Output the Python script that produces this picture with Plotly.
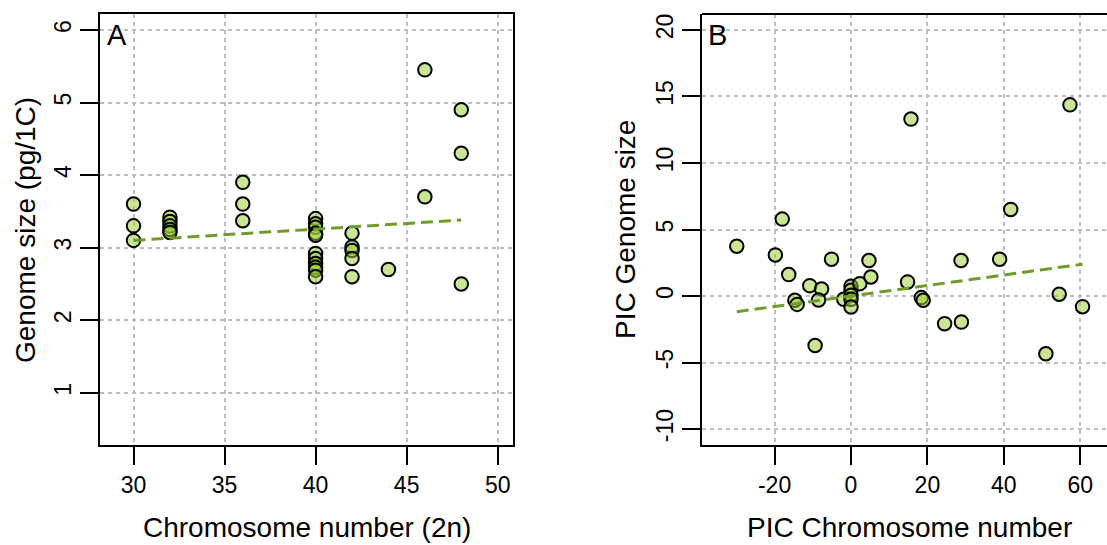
import numpy as np
import plotly.graph_objects as go

# ---------------- Data ----------------
# Panel A: chromosome number (2n) vs genome size (pg/1C)
chrom_2n = [30, 30, 30,
            32, 32, 32, 32, 32,
            36, 36, 36,
            40, 40, 40, 40, 40, 40, 40, 40, 40, 40, 40,
            42, 42, 42, 42, 42,
            44,
            46, 46,
            48, 48, 48]
genome_size = [3.60, 3.30, 3.10,
               3.42, 3.36, 3.30, 3.25, 3.21,
               3.90, 3.60, 3.37,
               3.40, 3.33, 3.28, 3.20, 3.17, 2.92, 2.85, 2.78, 2.73, 2.69, 2.60,
               3.20, 3.01, 2.96, 2.85, 2.60,
               2.70,
               5.45, 3.70,
               4.90, 4.30, 2.50]
fitA_coef = [2.633, 0.01556]   # intercept, slope

# Panel B: phylogenetic independent contrasts
pic_chrom = [-29.9, -18.0, -19.8, -16.3, -14.7, -14.1, -10.8, -7.7, -8.5, -9.4,
             -5.1, -1.9, 0.0, 0.0, 0.0, 0.0, 0.0, 2.3, 4.7, 5.2,
             15.7, 14.8, 18.4, 18.9, 24.5, 28.9, 28.8, 38.9, 41.8, 57.3,
             54.5, 60.6, 51.0]
pic_genome = [3.74, 5.78, 3.09, 1.61, -0.32, -0.63, 0.78, 0.53, -0.30, -3.72,
              2.77, -0.25, 0.73, 0.43, 0.05, -0.25, -0.83, 0.93, 2.67, 1.43,
              13.30, 1.06, -0.12, -0.32, -2.08, -1.96, 2.67, 2.77, 6.51, 14.37,
              0.13, -0.80, -4.34]
fitB_coef = [0.0, 0.0395]      # regression through origin

xA_ticks = [30, 35, 40, 45, 50]
yA_ticks = [1, 2, 3, 4, 5, 6]
xB_ticks = [-20, 0, 20, 40, 60]
yB_ticks = [-10, -5, 0, 5, 10, 15, 20]

# ---------------- Style ----------------
W, H = 1107, 545
FONT = "Liberation Sans, Arial, Helvetica, sans-serif"
fill = "rgba(154,205,50,0.52)"
line_col = "#6F9C2B"
grid_col = "#BEBEBE"

def px_x(p):
    return p / W

def px_y(p):
    return 1 - p / H

top_px, bot_px = 14, 445
A_left, A_right = 100, 513
B_left = 702

fig = go.Figure()

# Panel A
fig.add_trace(go.Scatter(
    x=chrom_2n, y=genome_size, mode="markers",
    marker=dict(size=13.5, color=fill, line=dict(color="black", width=2)),
    xaxis="x", yaxis="y", showlegend=False, hoverinfo="x+y"))
xa_line = np.array([min(chrom_2n), max(chrom_2n)])
fig.add_trace(go.Scatter(
    x=xa_line, y=fitA_coef[0] + fitA_coef[1] * xa_line, mode="lines",
    line=dict(color=line_col, width=3, dash="12px,6px"),
    xaxis="x", yaxis="y", showlegend=False, hoverinfo="skip"))

# Panel B
fig.add_trace(go.Scatter(
    x=pic_chrom, y=pic_genome, mode="markers",
    marker=dict(size=13.5, color=fill, line=dict(color="black", width=2)),
    xaxis="x2", yaxis="y2", showlegend=False, hoverinfo="x+y"))
xb_line = np.array([min(pic_chrom), max(pic_chrom)])
fig.add_trace(go.Scatter(
    x=xb_line, y=fitB_coef[0] + fitB_coef[1] * xb_line, mode="lines",
    line=dict(color=line_col, width=3, dash="12px,6px"),
    xaxis="x2", yaxis="y2", showlegend=False, hoverinfo="skip"))

axis_common = dict(
    showgrid=True, gridcolor=grid_col, gridwidth=1.5, griddash="4px,4px",
    zeroline=False, showline=True, linecolor="black", linewidth=2,
    ticks="outside", ticklen=18, tickwidth=2, tickcolor="black",
    tickfont=dict(family=FONT, size=23, color="black"),
    tickmode="array",
)

yA_dom = [px_y(bot_px), px_y(top_px)]

fig.update_layout(
    width=W, height=H, autosize=False,
    margin=dict(l=0, r=0, t=0, b=0),
    paper_bgcolor="white", plot_bgcolor="white",
    font=dict(family=FONT, color="black"),
    xaxis=dict(axis_common, domain=[px_x(A_left), px_x(A_right)],
               range=[28.16, 50.84], tickvals=xA_ticks,
               ticktext=[str(v) for v in xA_ticks], mirror=True,
               anchor="y"),
    yaxis=dict(axis_common, domain=yA_dom, range=[0.28, 6.22],
               tickvals=yA_ticks, ticktext=[str(v) for v in yA_ticks],
               tickangle=-90, mirror=True, anchor="x"),
    xaxis2=dict(axis_common, domain=[px_x(B_left), 1.0],
                range=[-39.0, 67.0], tickvals=xB_ticks,
                ticktext=[str(v) for v in xB_ticks], anchor="y2"),
    yaxis2=dict(axis_common, domain=yA_dom, range=[-11.2, 21.2],
                tickvals=yB_ticks, ticktext=[str(v) for v in yB_ticks],
                tickangle=-90, anchor="x2"),
)

# top border of panel B (right side is cut off in the original)
fig.add_shape(type="line", xref="paper", yref="paper",
              x0=px_x(B_left), x1=1.0, y0=px_y(top_px), y1=px_y(top_px),
              line=dict(color="black", width=2))

ann = []
# axis titles
ann.append(dict(text="Chromosome number (2n)", x=px_x(307), y=px_y(527),
                xref="paper", yref="paper", showarrow=False,
                font=dict(family=FONT, size=28), xanchor="center", yanchor="middle"))
ann.append(dict(text="PIC Chromosome number", x=px_x(909), y=px_y(527),
                xref="paper", yref="paper", showarrow=False,
                font=dict(family=FONT, size=28), xanchor="center", yanchor="middle"))
ann.append(dict(text="Genome size (pg/1C)", x=px_x(25), y=px_y(230),
                xref="paper", yref="paper", showarrow=False, textangle=-90,
                font=dict(family=FONT, size=28), xanchor="center", yanchor="middle"))
ann.append(dict(text="PIC Genome size", x=px_x(625), y=px_y(230),
                xref="paper", yref="paper", showarrow=False, textangle=-90,
                font=dict(family=FONT, size=28), xanchor="center", yanchor="middle"))
# panel letters
ann.append(dict(text="A", x=px_x(105), y=px_y(35), xref="paper", yref="paper",
                showarrow=False, font=dict(family=FONT, size=29),
                xanchor="left", yanchor="middle"))
ann.append(dict(text="B", x=px_x(706), y=px_y(35), xref="paper", yref="paper",
                showarrow=False, font=dict(family=FONT, size=29),
                xanchor="left", yanchor="middle"))
fig.update_layout(annotations=ann)

fig.write_html(
    "out.html",
    config={"displayModeBar": False},
    post_script="document.body.style.margin='0';document.body.style.overflow='hidden';",
)
